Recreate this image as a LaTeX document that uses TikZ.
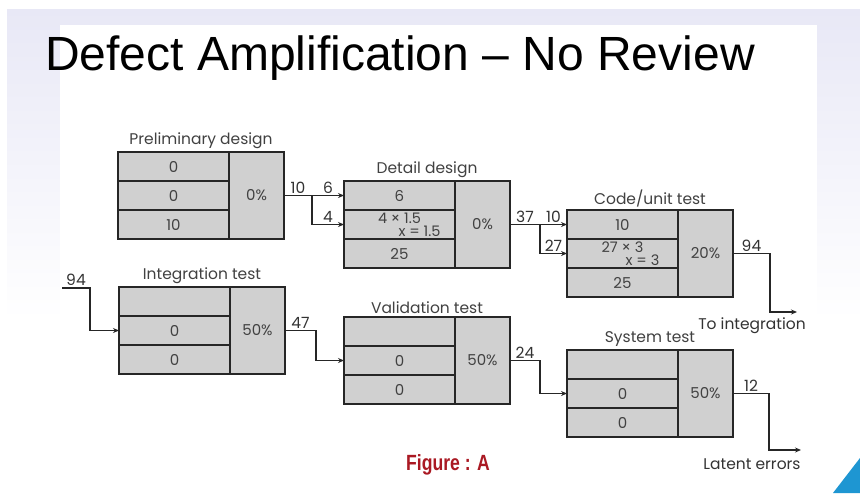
\documentclass[tikz,border=0pt]{standalone}
\usepackage{fontspec}
\setmainfont{Liberation Sans}
\newfontfamily\boxfont{Poppins}
\newcommand{\twolinefont}{\boxfont\fontsize{14.5}{13}\selectfont}
\usetikzlibrary{arrows.meta, positioning}
\definecolor{slidelav}{RGB}{232, 232, 246}
\definecolor{cellgray}{RGB}{208, 208, 208}
\definecolor{textgray}{RGB}{65, 65, 65}
\definecolor{figred}{RGB}{170, 25, 35}
\definecolor{cornerblue}{RGB}{30, 150, 210}

\begin{document}
\begin{tikzpicture}[x=1pt, y=-1pt, >={Stealth[length=6pt,width=5pt]},
  cell/.style={rectangle, draw=black!85, line width=2.2pt, fill=cellgray, minimum width=111pt, minimum height=29pt, inner sep=0pt, outer sep=0pt, align=center, font=\boxfont\fontsize{15}{13}\selectfont, text=textgray},
  pct/.style={cell, minimum width=55pt, minimum height=87pt},
  stagelbl/.style={font=\boxfont\fontsize{15.5}{16}\selectfont, text=textgray, anchor=south, inner sep=1pt},
  lbl/.style={font=\boxfont\fontsize{15.5}{16}\selectfont, text=black!80, inner sep=1.5pt},
  flow/.style={->, line width=1.8pt, black!85}]

% Slide background
\useasboundingbox (0,0) rectangle (860,493);
\fill[white] (0,0) rectangle (860,493);
\shade[top color=slidelav, bottom color=white] (7,9) rectangle (860,320);
\fill[white] (60,25) rectangle (817,493);
\fill[cornerblue] (833,493) -- (860,458) -- (860,493) -- cycle;

% Title
\node[anchor=base west, font=\fontsize{48}{52}\selectfont, inner sep=0pt] (title) at (45,70) {Defect Amplification – No Review};

% Stages (three rows + efficiency)
\foreach \nm/\x/\y/\lbl/\ra/\rb/\rc/\p in {
    pd/118/152/{Preliminary design}/0/0/10/0\%,
    dd/344/181/{Detail design}/6/{\twolinefont 4 × 1.5\\\twolinefont\hspace*{40pt}x = 1.5}/25/0\%,
    cu/567/210/{Code/unit test}/10/{\twolinefont 27 × 3\\\twolinefont\hspace*{40pt}x = 3}/25/20\%,
    it/119/287/{Integration test}/{}/0/0/50\%,
    vt/344/317/{Validation test}/{}/0/0/50\%,
    st/567/350/{System test}/{}/0/0/50\%} {
    \node[cell, anchor=north west] (\nm-a) at (\x,\y) {\ra};
    \node[cell, below=0pt of \nm-a] (\nm-b) {\rb};
    \node[cell, below=0pt of \nm-b] (\nm-c) {\rc};
    \node[pct, right=0pt of \nm-b] (\nm-pct) {\p};
    \node[stagelbl] (\nm-lbl) at ([xshift=27.5pt, yshift=2pt]\nm-a.north) {\lbl};
}

% Upper chain
\draw[flow] (pd-pct.east) -- node[lbl, above] {10} ++(28,0) coordinate (pdj) -- node[lbl, above] {6} (dd-a.west);
\draw[flow] (pdj) |- node[lbl, above, pos=0.75] {4} (dd-b.west);
\draw[flow] (dd-pct.east) -- node[lbl, above] {37} ++(30,0) coordinate (ddj) -- node[lbl, above] {10} (cu-a.west);
\draw[flow] (ddj) |- node[lbl, above, pos=0.75] {27} (cu-b.west);

\coordinate (toint) at (797,312);
\draw[flow] (cu-pct.east) -- node[lbl, above] {94} ++(37,0) |- (toint);
\node[lbl] (tointlbl) at (752,326) {To integration};

% Lower chain
\coordinate (fromcu) at (62,288);
\draw[flow] (fromcu) -- node[lbl, above] {94} ++(28,0) |- (it-b.west);
\draw[flow] (it-pct.east) -- node[lbl, above] {47} ++(31,0) |- (vt-b.west);
\draw[flow] (vt-pct.east) -- node[lbl, above] {24} ++(30,0) |- (st-b.west);

\coordinate (latent) at (801,450);
\draw[flow] (st-pct.east) -- node[lbl, above] {12} ++(36,0) |- (latent);
\node[lbl] (latentlbl) at (752,464) {Latent errors};

% Caption
\node[font=\bfseries\fontsize{22}{24}\selectfont, text=figred] (fig) at (448,465) {\scalebox{0.8}[1]{Figure : A}};
\end{tikzpicture}
\end{document}
